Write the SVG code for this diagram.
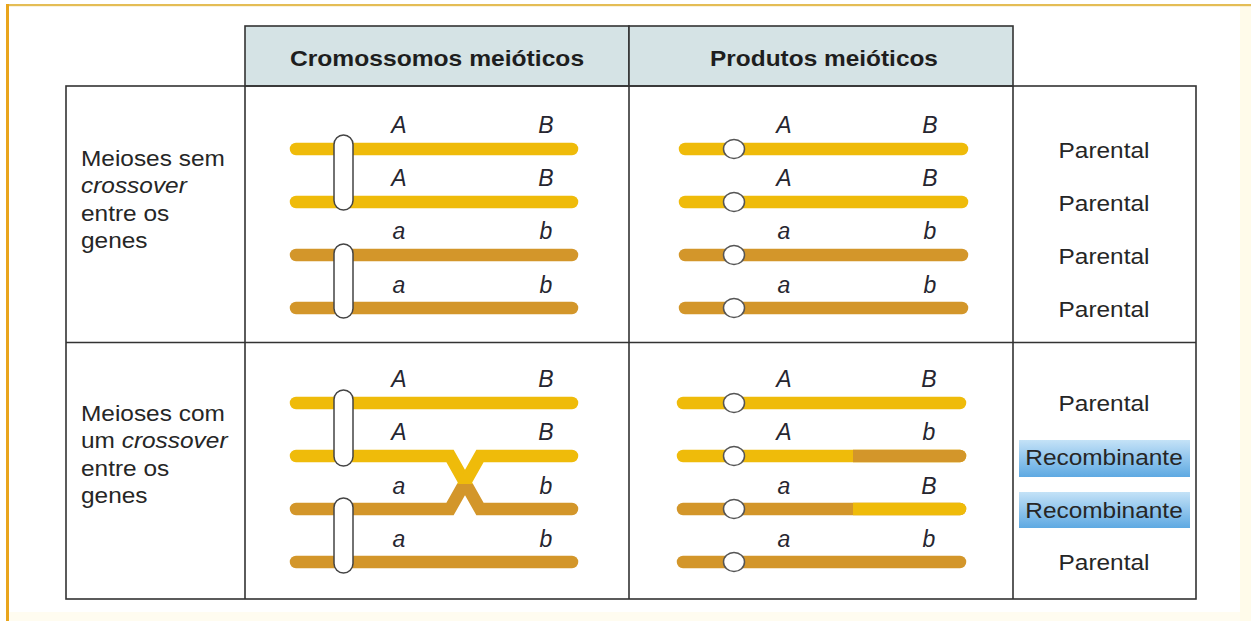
<svg xmlns="http://www.w3.org/2000/svg" width="1251" height="621" viewBox="0 0 1251 621">
  <defs>
    <style>
      .grid { fill: none; stroke: #333; stroke-width: 1.6; }
      .head { fill: #d5e3e5; stroke: #333; stroke-width: 1.6; }
      .yl { stroke: #efbb0a; stroke-width: 12.5; stroke-linecap: round; fill: none; }
      .or { stroke: #d3962a; stroke-width: 12.5; stroke-linecap: round; fill: none; }
      .orf { fill: #d3962a; }
      .pill { fill: #fff; stroke: #444; stroke-width: 1.5; }
      .cen { fill: #fff; stroke: #555; stroke-width: 1.5; }
      .t { font-family: "Liberation Sans", Arial, sans-serif; font-size: 22px; fill: #262626; }
      .hd { font-weight: bold; text-anchor: middle; fill: #1e1e1e; }
      .mid { text-anchor: middle; }
      .gene { font-family: "Liberation Sans", Arial, sans-serif; font-size: 23px; font-style: italic; fill: #262630; text-anchor: middle; }
      .it { font-style: italic; }
      .rec { fill: url(#recGrad); }
    </style>
    <linearGradient id="recGrad" x1="0" y1="0" x2="0" y2="1">
      <stop offset="0" stop-color="#c4e2f7"/>
      <stop offset="1" stop-color="#5ea9e2"/>
    </linearGradient>
    <clipPath id="upperHalf"><rect x="280" y="440" width="310" height="44"/></clipPath>
    <clipPath id="lowerHalf"><rect x="280" y="484" width="310" height="40"/></clipPath>
  </defs>

  <!-- page frame -->
  <rect x="0" y="0" width="1251" height="621" fill="#fff"/>
  <rect x="1240" y="6" width="11" height="615" fill="#fffbea"/>
  <rect x="9" y="612" width="1231" height="9" fill="#fffcf0"/>
  <rect x="6" y="4" width="1245" height="2.2" fill="#e4bd55"/>
  <rect x="6" y="4" width="3" height="617" fill="#e9a51c"/>

  <!-- table grid -->
  <g id="table">
    <rect class="head" x="245" y="26" width="384" height="60"/>
    <rect class="head" x="629" y="26" width="384" height="60"/>
    <rect class="grid" x="66" y="86" width="1130" height="513"/>
    <line class="grid" x1="245" y1="86" x2="245" y2="599"/>
    <line class="grid" x1="629" y1="86" x2="629" y2="599"/>
    <line class="grid" x1="1013" y1="86" x2="1013" y2="599"/>
    <line class="grid" x1="66" y1="342.5" x2="1196" y2="342.5"/>
  </g>

  <!-- column headings -->
  <g id="headings" class="t">
    <g transform="translate(437,0) scale(1.12,1)"><text class="t hd" x="0" y="66">Cromossomos meióticos</text></g>
    <g transform="translate(824,0) scale(1.11,1)"><text class="t hd" x="0" y="66">Produtos meióticos</text></g>
  </g>

  <!-- row headings -->
  <g id="row-no-crossover" transform="translate(81,0) scale(1.11,1)">
    <text class="t" x="0" y="166">Meioses sem</text>
    <text class="t it" x="0" y="193">crossover</text>
    <text class="t" x="0" y="221">entre os</text>
    <text class="t" x="0" y="248">genes</text>
  </g>
  <g id="row-crossover" transform="translate(81,0) scale(1.11,1)">
    <text class="t" x="0" y="421">Meioses com</text>
    <text class="t" x="0" y="448">um <tspan class="it">crossover</tspan></text>
    <text class="t" x="0" y="476">entre os</text>
    <text class="t" x="0" y="503">genes</text>
  </g>

  <!-- meiotic chromosomes, no crossover -->
  <g id="chromosomes-no-crossover">
    <line class="yl" x1="296" y1="149" x2="572" y2="149"/>
    <line class="yl" x1="296" y1="202" x2="572" y2="202"/>
    <line class="or" x1="296" y1="255" x2="572" y2="255"/>
    <line class="or" x1="296" y1="308" x2="572" y2="308"/>
    <rect class="pill" x="334" y="135" width="19" height="75" rx="9.5"/>
    <rect class="pill" x="334" y="244" width="19" height="74" rx="9.5"/>
    <text class="gene" x="399" y="133">A</text><text class="gene" x="546" y="133">B</text>
    <text class="gene" x="399" y="186">A</text><text class="gene" x="546" y="186">B</text>
    <text class="gene" x="399" y="239">a</text><text class="gene" x="546" y="239">b</text>
    <text class="gene" x="399" y="293">a</text><text class="gene" x="546" y="293">b</text>
  </g>

  <!-- meiotic products, no crossover -->
  <g id="products-no-crossover">
    <line class="yl" x1="685" y1="149" x2="962" y2="149"/>
    <line class="yl" x1="685" y1="202" x2="962" y2="202"/>
    <line class="or" x1="685" y1="255" x2="962" y2="255"/>
    <line class="or" x1="685" y1="308" x2="962" y2="308"/>
    <ellipse class="cen" cx="734" cy="149" rx="10.5" ry="9.5"/>
    <ellipse class="cen" cx="734" cy="202" rx="10.5" ry="9.5"/>
    <ellipse class="cen" cx="734" cy="255" rx="10.5" ry="9.5"/>
    <ellipse class="cen" cx="734" cy="308" rx="10.5" ry="9.5"/>
    <text class="gene" x="784" y="133">A</text><text class="gene" x="930" y="133">B</text>
    <text class="gene" x="784" y="186">A</text><text class="gene" x="930" y="186">B</text>
    <text class="gene" x="784" y="239">a</text><text class="gene" x="930" y="239">b</text>
    <text class="gene" x="784" y="293">a</text><text class="gene" x="930" y="293">b</text>
  </g>

  <!-- meiotic chromosomes, one crossover -->
  <g id="chromosomes-crossover">
    <line class="yl" x1="296" y1="403" x2="572" y2="403"/>
    <line class="or" x1="296" y1="562" x2="572" y2="562"/>
    <g clip-path="url(#upperHalf)">
      <path class="yl" d="M296,456 H450 L480,509 H572"/>
      <path class="yl" d="M296,509 H450 L480,456 H572"/>
    </g>
    <g clip-path="url(#lowerHalf)">
      <path class="or" d="M296,509 H450 L480,456 H572"/>
      <path class="or" d="M296,456 H450 L480,509 H572"/>
    </g>
    <rect class="pill" x="334" y="390" width="19" height="76" rx="9.5"/>
    <rect class="pill" x="334" y="498" width="19" height="75" rx="9.5"/>
    <text class="gene" x="399" y="387">A</text><text class="gene" x="546" y="387">B</text>
    <text class="gene" x="399" y="440">A</text><text class="gene" x="546" y="440">B</text>
    <text class="gene" x="399" y="494">a</text><text class="gene" x="546" y="494">b</text>
    <text class="gene" x="399" y="547">a</text><text class="gene" x="546" y="547">b</text>
  </g>

  <!-- meiotic products, one crossover -->
  <g id="products-crossover">
    <line class="yl" x1="683" y1="403" x2="960" y2="403"/>
    <line class="yl" x1="683" y1="456" x2="960" y2="456"/>
    <path class="orf" d="M853,449.75 H960 A6.25,6.25 0 0 1 960,462.25 H853 Z"/>
    <line class="or" x1="683" y1="509" x2="960" y2="509"/>
    <path fill="#efbb0a" d="M853,502.75 H960 A6.25,6.25 0 0 1 960,515.25 H853 Z"/>
    <line class="or" x1="683" y1="562" x2="960" y2="562"/>
    <ellipse class="cen" cx="734" cy="403" rx="10.5" ry="9.5"/>
    <ellipse class="cen" cx="734" cy="456" rx="10.5" ry="9.5"/>
    <ellipse class="cen" cx="734" cy="509" rx="10.5" ry="9.5"/>
    <ellipse class="cen" cx="734" cy="562" rx="10.5" ry="9.5"/>
    <text class="gene" x="784" y="387">A</text><text class="gene" x="929" y="387">B</text>
    <text class="gene" x="784" y="440">A</text><text class="gene" x="929" y="440">b</text>
    <text class="gene" x="784" y="494">a</text><text class="gene" x="929" y="494">B</text>
    <text class="gene" x="784" y="547">a</text><text class="gene" x="929" y="547">b</text>
  </g>

  <!-- product classes -->
  <g id="classes-no-crossover" transform="translate(1104,0) scale(1.11,1)">
    <text class="t mid" x="0" y="158">Parental</text>
    <text class="t mid" x="0" y="211">Parental</text>
    <text class="t mid" x="0" y="264">Parental</text>
    <text class="t mid" x="0" y="317">Parental</text>
  </g>
  <g id="classes-crossover">
    <rect class="rec" x="1019" y="440" width="171" height="37"/>
    <rect class="rec" x="1019" y="492" width="171" height="36"/>
    <g transform="translate(1104,0) scale(1.11,1)">
      <text class="t mid" x="0" y="411">Parental</text>
      <text class="t mid" x="0" y="465" fill="#1d2b38">Recombinante</text>
      <text class="t mid" x="0" y="518" fill="#1d2b38">Recombinante</text>
      <text class="t mid" x="0" y="570">Parental</text>
    </g>
  </g>
</svg>
